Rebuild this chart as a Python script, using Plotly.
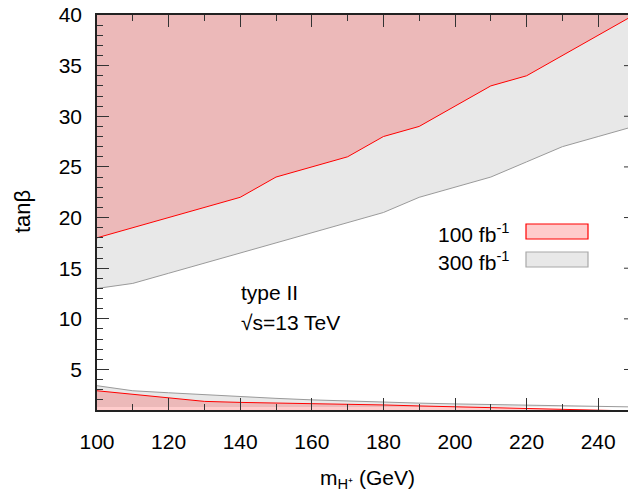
import plotly.graph_objects as go

# ---- data ----
mass = [100, 110, 120, 130, 140, 150, 160, 170, 180, 190, 200, 210, 220, 230, 240, 250]
tb_100_upper = [18, 19, 20, 21, 22, 24, 25, 26, 28, 29, 31, 33, 34, 36, 38, 40]
tb_300_upper = [13, 13.5, 14.5, 15.5, 16.5, 17.5, 18.5, 19.5, 20.5, 22, 23, 24, 25.5, 27, 28, 29]
tb_100_lower = [2.9, 2.55, 2.2, 1.85, 1.75, 1.7, 1.65, 1.57, 1.5, 1.4, 1.32, 1.22, 1.12, 1.05, 0.97, 0.9]
tb_300_lower = [3.4, 2.9, 2.7, 2.5, 2.3, 2.15, 2.0, 1.88, 1.78, 1.68, 1.6, 1.53, 1.47, 1.42, 1.38, 1.3]
tb_300_floor = 1.3
tb_top = 40
tb_bottom = 0

x_ticks = [100, 120, 140, 160, 180, 200, 220, 240]
y_ticks = [5, 10, 15, 20, 25, 30, 35, 40]

legend_labels = ["100 fb<sup>-1</sup>", "300 fb<sup>-1</sup>"]
annot_lines = ["type II", "√s=13 TeV"]

# ---- layout geometry ----
W, H = 628, 491
ML, MR, MT, MB = 97, 0, 15, 81
PW, PH = W - ML - MR, H - MT - MB

def px(xp):
    return (xp - ML) / PW

def py(yp):
    return (H - MB - yp) / PH

GRAY_FILL = "#e8e8e8"
GRAY_LINE = "#9a9a9a"
RED_FILL = "rgba(255,0,0,0.2)"
RED_LINE = "#ff0000"
FONT = "Liberation Sans, Arial, sans-serif"
FS = 21

n = len(mass)
fig = go.Figure()

def band(lo, hi, color):
    fig.add_trace(go.Scatter(x=mass, y=lo, mode="lines", line=dict(width=0),
                             showlegend=False, hoverinfo="skip"))
    fig.add_trace(go.Scatter(x=mass, y=hi, mode="lines", line=dict(width=0),
                             fill="tonexty", fillcolor=color,
                             showlegend=False, hoverinfo="skip"))

# 300 fb^-1 regions (opaque gray)
band([tb_top] * n, tb_300_upper, GRAY_FILL)
band([tb_300_floor] * n, tb_300_lower, GRAY_FILL)
# 100 fb^-1 regions (translucent red)
band([tb_top] * n, tb_100_upper, RED_FILL)
band([tb_bottom] * n, tb_100_lower, RED_FILL)

# boundary lines
for ys, c in [(tb_300_upper, GRAY_LINE), (tb_300_lower, GRAY_LINE),
              (tb_100_upper, RED_LINE), (tb_100_lower, RED_LINE)]:
    fig.add_trace(go.Scatter(x=mass, y=ys, mode="lines", line=dict(color=c, width=1),
                             showlegend=False, hoverinfo="skip"))

shapes = []
# right-side ticks (the right frame itself lies just outside the picture)
for yv in y_ticks[:-1]:
    shapes.append(dict(type="line", xref="paper", yref="y",
                       x0=1 - 4 / PW, x1=1, y0=yv, y1=yv,
                       line=dict(color="#333", width=1)))

# manual legend (gnuplot style: text then sample box)
legend_boxes = [
    (224, 239, "#ffcccc", RED_LINE),
    (252, 267, GRAY_FILL, "#a8a8a8"),
]
annotations = []
for (y0p, y1p, fc, lc), lab in zip(legend_boxes, legend_labels):
    shapes.append(dict(type="rect", xref="paper", yref="paper",
                       x0=px(526), x1=px(588), y0=py(y1p), y1=py(y0p),
                       fillcolor=fc, line=dict(color=lc, width=1.2)))
    annotations.append(dict(xref="paper", yref="paper", x=px(511), y=py((y0p + y1p) / 2 + 1),
                            text=lab, showarrow=False, xanchor="right", yanchor="middle",
                            font=dict(size=FS, color="black", family=FONT)))

for i, t in enumerate(annot_lines):
    annotations.append(dict(xref="paper", yref="paper", x=px(239), y=py(292 + 30 * i),
                            text=t, showarrow=False, xanchor="left", yanchor="middle",
                            font=dict(size=FS, color="black", family=FONT)))

# axis titles
annotations.append(dict(xref="paper", yref="paper", x=px(367), y=py(479),
                        text="m<sub>H⁺</sub> (GeV)", showarrow=False,
                        xanchor="center", yanchor="middle",
                        font=dict(size=FS, color="black", family=FONT)))
annotations.append(dict(xref="paper", yref="paper", x=px(22), y=py(212),
                        text="tanβ", showarrow=False, textangle=-90,
                        xanchor="center", yanchor="middle",
                        font=dict(size=22, color="black", family=FONT)))

fig.update_layout(
    width=W, height=H,
    margin=dict(l=ML, r=MR, t=MT, b=MB, pad=0),
    paper_bgcolor="white", plot_bgcolor="white",
    font=dict(family=FONT, size=FS, color="black"),
    showlegend=False,
    shapes=shapes, annotations=annotations,
    xaxis=dict(range=[100, 100 + PW / 3.58], tickvals=x_ticks,
               ticks="inside", ticklen=12, tickwidth=1, tickcolor="#333",
               minor=dict(dtick=10, tick0=100, ticks="inside", ticklen=6, tickcolor="#333"),
               showline=True, linecolor="#222", linewidth=1.5, mirror="ticks",
               showgrid=False, zeroline=False, ticklabelstandoff=12,
               tickfont=dict(size=FS, family=FONT)),
    yaxis=dict(range=[1, 40], tickvals=y_ticks,
               ticks="inside", ticklen=12, tickwidth=1, tickcolor="#333",
               minor=dict(dtick=1, tick0=0, ticks="inside", ticklen=6, tickcolor="#333"),
               showline=True, linecolor="#222", linewidth=1.5, mirror=False,
               showgrid=False, zeroline=False, ticklabelstandoff=9,
               tickfont=dict(size=FS, family=FONT)),
)

fig.write_html("out.html")
